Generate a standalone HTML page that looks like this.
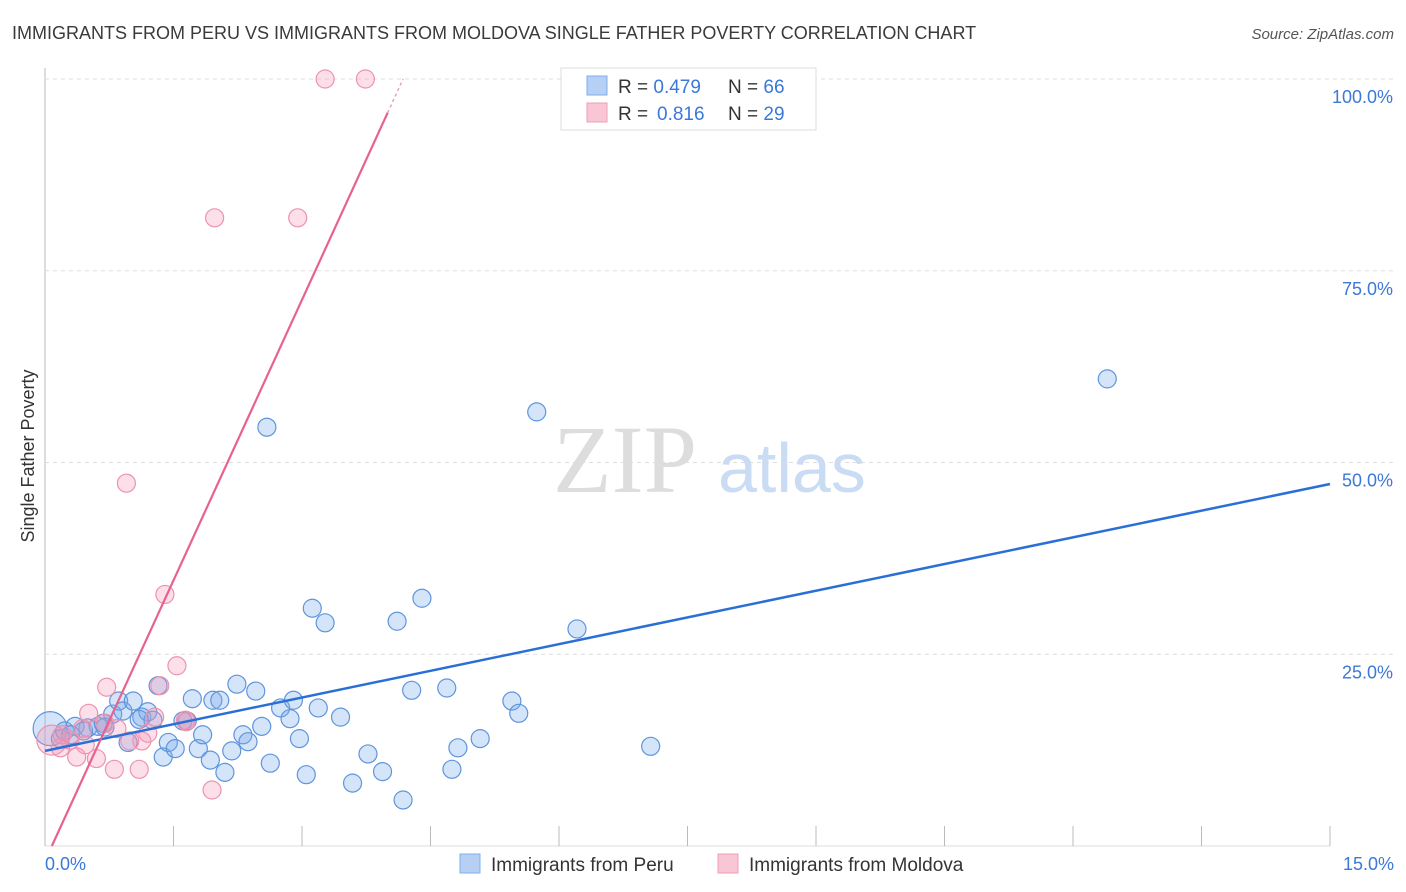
<!DOCTYPE html>
<html><head><meta charset="utf-8"><style>
body{margin:0;background:#fff;font-family:"Liberation Sans",sans-serif;}
svg{display:block}
</style></head><body>
<svg id="c" width="1406" height="892">
<text x="12" y="39" font-size="18" fill="#3a3a3a">IMMIGRANTS FROM PERU VS IMMIGRANTS FROM MOLDOVA SINGLE FATHER POVERTY CORRELATION CHART</text>
<text x="1394" y="39" font-size="15" fill="#555" font-style="italic" text-anchor="end">Source: ZipAtlas.com</text>
<text x="34" y="456" font-size="18" fill="#333" text-anchor="middle" transform="rotate(-90 34 456)">Single Father Poverty</text>
<g id="grid"></g>
<text x="553" y="492" font-size="96" fill="#ddd" font-family="Liberation Serif,serif">ZIP</text>
<text x="718" y="492" font-size="70" fill="#c9dcf3">atlas</text>
<g id="pts"></g>
<g id="lines"></g>
<g>
<rect x="561" y="68" width="255" height="62" fill="#fff" stroke="#ddd"/>
<rect x="587" y="76" width="20" height="19" fill="#b6d0f5" stroke="#7faee8"/>
<rect x="587" y="103" width="20" height="19" fill="#f9c6d5" stroke="#ee9fb8"/>
<text x="618" y="93" font-size="19" fill="#333">R = <tspan fill="#3b78d8">0.479</tspan><tspan x="728">N = </tspan><tspan fill="#3b78d8">66</tspan></text>
<text x="618" y="120" font-size="19" fill="#333">R = <tspan fill="#3b78d8" x="657">0.816</tspan><tspan x="728">N = </tspan><tspan fill="#3b78d8">29</tspan></text>
</g>
<g>
<rect x="460" y="854" width="20" height="19" fill="#b6d0f5" stroke="#7faee8"/>
<text x="491" y="871" font-size="19" fill="#333">Immigrants from Peru</text>
<rect x="718" y="854" width="20" height="19" fill="#f9c6d5" stroke="#ee9fb8"/>
<text x="749" y="871" font-size="19" fill="#333">Immigrants from Moldova</text>
</g>
</svg>
<script>
const xTicks=[0,1.5,3,4.5,6,7.5,9,10.5,12,13.5,15];
const yTicks=[25,50,75,100];
const peruX=[0.06,0.18,0.23,0.35,0.5,0.62,0.68,0.79,0.86,0.91,1.03,0.97,1.13,1.2,1.26,1.32,1.38,1.44,1.52,1.61,1.66,1.72,1.79,1.84,1.93,1.96,2.04,2.1,2.18,2.24,2.31,2.37,2.46,2.53,2.59,2.63,2.75,2.86,2.9,2.97,3.05,3.12,3.19,3.27,3.45,3.59,3.77,3.94,4.11,4.18,4.28,4.4,4.69,4.75,4.82,5.08,5.45,5.53,5.74,6.21,7.07,12.4,0.3,0.45,0.7,1.1];
const peruY=[15.3,14.0,15.0,15.6,15.4,15.6,16.0,17.2,18.9,17.6,18.9,13.5,16.8,17.5,16.4,20.9,11.6,13.5,12.7,16.3,16.3,19.2,12.7,14.5,11.2,19.0,19.0,9.6,12.4,21.1,14.5,13.6,20.2,15.6,54.6,10.8,18.0,16.6,19.0,14.0,9.3,31.0,18.0,29.1,16.8,8.2,12.0,9.7,29.3,6.0,20.3,32.3,20.6,10.0,12.8,14.0,18.9,17.3,56.6,28.3,13.0,60.9,14.5,15.0,15.5,16.5];
const molX=[3.27,3.74,1.98,2.95,0.95,1.4,1.54,1.34,0.72,1.64,0.51,1.28,1.2,1.13,0.99,0.81,1.1,1.95,0.37,0.6,0.08,0.2,0.29,0.47,0.84,0.7,1.65,0.44,0.18];
const molY=[100,100,81.9,81.9,47.3,32.8,23.5,20.9,20.7,16.4,17.3,16.8,14.7,13.7,13.7,10.0,10.0,7.3,11.6,11.4,13.8,14.5,13.8,13.2,15.3,16.0,16.2,15.3,12.8];
const NS='http://www.w3.org/2000/svg';
const X=v=>45+v/15*1285, Y=v=>846-v/100*767;
function mk(t,a,p){const e=document.createElementNS(NS,t);for(const k in a)e.setAttribute(k,a[k]);p.appendChild(e);return e;}
const svg=document.getElementById('c');
const grid=document.getElementById('grid');
mk('line',{x1:45,y1:68,x2:45,y2:846,stroke:'#bbb'},grid);
mk('line',{x1:45,y1:846,x2:1330,y2:846,stroke:'#ddd'},grid);
yTicks.forEach(v=>{
 const l=mk('line',{x1:45,y1:Y(v),x2:1394,y2:Y(v),stroke:'#ddd','stroke-dasharray':'4,4'},grid);
 
 
 const t=mk('text',{x:1393,y:Y(v)+24,'font-size':18,fill:'#3b78d8','text-anchor':'end'},grid);
 t.textContent=v.toFixed(1)+'%';
 
 
});
xTicks.forEach(v=>{
 const l=mk('line',{x1:X(v),y1:826,x2:X(v),y2:846,stroke:'#bbb'},grid);
 
 
});
[[0,'start',45],[15,'end',1394]].forEach(a=>{
 const t=mk('text',{x:a[2],y:870,'font-size':18,fill:'#3b78d8','text-anchor':a[1]},grid);
 t.textContent=a[0].toFixed(1)+'%';
 
 
});
const pts=document.getElementById('pts');
peruX.forEach((x,i)=>{
 const c=mk('circle',{cx:X(x),cy:Y(peruY[i]),r:i==0?17:9,fill:'rgba(120,170,235,0.32)',stroke:'#5f95dc','stroke-width':1.2},pts);
 
 
});
molX.forEach((x,i)=>{
 const c=mk('circle',{cx:X(x),cy:Y(molY[i]),r:i==20?15:9,fill:'rgba(245,150,180,0.3)',stroke:'#ec93b0','stroke-width':1.2},pts);
 
 
});
const lines=document.getElementById('lines');
const bl=mk('line',{x1:X(0),y1:Y(12.4),x2:X(15),y2:Y(47.2),stroke:'#2a6fd6','stroke-width':2.5},lines);


const pl=mk('line',{x1:X(0.08),y1:Y(0),x2:X(4.0),y2:Y(95.6),stroke:'#e8628f','stroke-width':2.2},lines);


const pd=mk('line',{x1:X(4.0),y1:Y(95.6),x2:X(4.18),y2:Y(100),stroke:'#e8a0b8','stroke-width':1.5,'stroke-dasharray':'3,3'},lines);


</script>
</body></html>
